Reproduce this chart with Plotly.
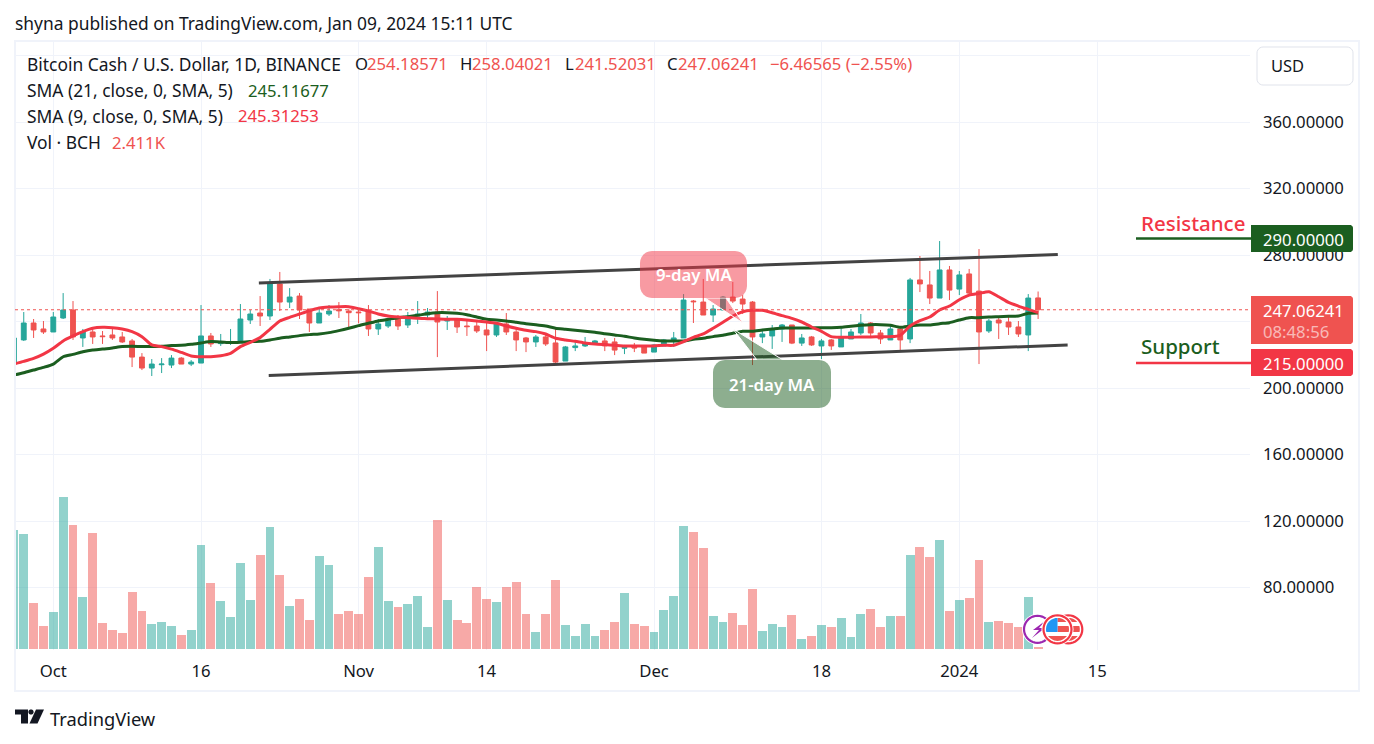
import math
import pandas as pd
import plotly.graph_objects as go

# ---------- data ----------
first_day = "2023-09-27"
opens = [214.4,228.9,239.1,235.5,233.7,242.1,246.9,230.1,233.7,231.3,
         231.9,230.7,228.3,218.6,212.0,214.0,213.8,218.0,214.4,215.0,
         231.3,226.7,227.1,227.7,240.9,245.1,243.3,262.6,251.7,255.3,
         247.5,239.1,244.5,247.1,246.3,245.7,246.3,235.5,237.3,241.5,
         237.9,243.3,243.9,245.7,240.3,241.5,237.3,237.3,234.9,231.9,
         238.5,233.7,230.1,227.7,230.7,227.1,216.2,224.3,225.3,226.5,
         228.3,227.7,223.9,224.7,224.7,221.6,225.3,228.9,230.1,252.3,
         251.7,243.9,246.9,254.7,253.5,251.7,230.7,231.3,235.5,237.9,
         227.0,230.7,225.3,228.9,224.7,229.5,233.1,239.1,233.1,228.9,
         235.5,229.5,265.0,262.0,254.1,271.0,259.5,268.6,258.3,234.3,
         240.9,239.7,236.7,231.9,254.18571]
highs = [230.1,245.7,241.5,240.3,245.7,257.1,252.3,235.5,235.5,234.3,
         236.7,233.7,229.5,221.0,217.4,218.0,219.8,218.6,216.8,249.9,
         233.1,232.5,235.5,250.5,246.9,255.3,265.6,269.8,260.1,257.1,
         247.5,248.7,249.9,251.7,247.5,248.1,249.9,241.5,242.1,243.9,
         245.7,252.3,248.1,258.3,243.3,242.1,241.5,240.9,239.7,239.1,
         245.1,236.1,230.7,231.9,231.9,236.7,225.3,227.7,230.7,228.9,
         230.1,230.1,225.9,227.1,225.3,226.5,229.5,233.7,256.5,252.9,
         265.6,249.9,255.3,263.8,255.9,252.3,235.5,237.9,238.5,237.9,
         232.5,231.3,229.5,229.5,236.7,235.5,244.5,239.7,234.9,238.5,
         236.1,266.2,279.4,270.4,288.4,273.4,270.4,271.6,283.6,241.5,
         242.7,243.9,240.3,256.5,258.04021]
lows = [214.4,228.3,230.1,232.5,233.7,241.5,228.9,224.7,226.5,226.5,
        228.9,227.1,212.6,210.8,207.2,209.0,212.0,214.4,213.2,215.0,
        224.7,225.3,225.9,227.1,238.5,237.3,240.9,246.3,248.1,241.5,
        233.7,239.1,243.3,242.1,236.7,238.9,231.3,231.9,236.1,234.9,
        236.1,238.5,242.1,218.6,234.9,233.1,231.3,233.1,222.2,230.7,
        231.9,222.2,221.6,224.7,225.3,214.4,216.2,222.2,224.7,225.9,
        222.2,219.8,220.4,221.6,221.0,221.6,225.3,224.7,230.1,239.1,
        243.9,239.7,246.9,251.1,244.5,213.8,227.0,223.5,227.7,226.4,
        225.3,225.3,217.4,222.9,224.7,229.5,231.9,231.3,226.5,228.9,
        221.6,227.0,257.7,250.5,254.1,252.9,255.9,256.5,214.4,233.1,
        229.5,231.9,230.7,222.2,241.52031]
closes = [230.1,239.1,234.9,233.7,242.7,246.9,230.7,233.7,230.7,230.9,
          230.1,227.7,218.6,212.0,214.4,214.4,218.0,214.4,215.6,231.3,
          226.5,227.1,227.7,241.5,244.5,243.3,262.6,251.7,254.7,246.9,
          239.1,245.1,246.3,246.5,245.3,245.3,235.5,238.5,241.5,237.3,
          243.3,244.5,245.7,239.7,240.9,236.7,236.9,234.3,231.9,238.5,
          233.7,228.9,227.7,230.7,226.5,215.6,224.7,225.3,227.1,228.3,
          225.3,222.8,224.5,224.1,221.0,225.9,228.9,230.1,252.9,251.9,
          243.9,247.5,254.7,252.3,250.5,230.7,232.5,235.5,237.9,227.0,
          230.1,225.9,228.3,225.3,230.1,233.7,239.1,233.1,229.5,235.5,
          228.9,265.0,262.6,254.1,271.0,258.9,268.0,257.1,233.7,240.3,
          239.1,236.7,232.5,254.1,247.06241]
volumes = [114.7,110.8,44.3,22.2,35.7,146.5,119.5,50.1,111.8,25.1,
           18.3,15.4,54.9,36.6,24.1,26.0,22.2,13.5,18.3,100.2,
           63.6,46.3,30.8,82.9,47.2,90.6,117.6,71.3,41.4,48.2,
           28.0,89.6,81.0,33.7,36.6,33.7,69.4,98.3,46.3,40.5,
           43.4,51.1,21.2,124.3,47.2,28.0,25.1,59.8,48.2,45.3,
           59.8,64.6,33.7,16.4,33.7,66.5,23.1,12.5,24.1,12.5,
           18.3,26.0,54.0,24.1,22.2,16.4,37.6,51.1,118.6,112.8,
           97.4,31.8,26.0,34.7,23.1,57.8,17.4,24.1,21.2,32.8,
           9.6,12.5,23.1,21.2,29.9,11.6,33.7,38.6,21.2,31.8,
           31.8,90.6,98.3,88.7,105.1,36.6,47.2,49.2,85.8,26.0,
           27.0,25.1,21.2,50.1,2.411]
sma21 = [207.8,209.2,210.8,212.4,214.4,218.8,220.2,221.8,222.9,223.4,
         224.1,224.9,225.1,224.9,224.9,225.1,225.5,225.7,226.3,227.1,
         227.9,227.7,227.3,227.5,227.9,228.1,228.9,229.9,230.7,231.5,
         232.1,232.5,233.3,234.5,235.9,237.5,238.9,240.3,241.3,242.3,
         242.9,243.7,244.7,245.3,245.3,244.9,244.1,242.7,241.3,240.9,
         240.3,239.5,238.7,238.1,237.3,235.9,235.3,234.7,234.1,233.5,
         232.7,231.9,231.1,230.1,229.3,228.7,228.3,228.3,228.3,229.3,
         229.9,230.9,231.7,232.9,234.1,234.1,234.9,235.5,236.1,236.1,
         236.1,236.1,236.3,236.3,236.5,237.1,237.7,238.1,238.1,237.7,
         236.5,237.3,237.9,237.9,238.7,239.3,240.9,242.3,242.3,242.7,
         242.9,243.1,243.3,244.9,245.11677]
sma9 = [214.4,216.0,217.8,220.4,223.9,228.3,231.3,233.9,235.9,236.5,
        236.3,235.5,233.9,230.9,225.9,224.9,223.4,221.4,219.3,218.8,
        218.8,219.4,220.8,224.9,227.5,230.3,235.3,240.3,242.5,244.5,
        246.5,248.1,248.7,248.9,248.9,247.7,246.3,244.5,243.3,242.7,
        242.3,241.9,241.7,241.5,241.3,241.3,240.9,240.3,239.7,238.9,
        237.3,235.9,234.7,233.9,232.5,229.9,228.9,228.1,227.1,226.5,
        226.1,225.7,225.3,225.3,225.3,225.3,225.7,225.7,227.9,230.5,
        232.5,235.9,239.5,243.3,245.9,246.7,246.7,245.3,243.5,241.9,
        239.7,236.7,234.1,230.9,230.5,230.5,230.7,230.7,230.9,230.9,
        231.7,237.3,240.5,242.7,246.9,249.3,253.1,255.9,256.9,257.9,
        254.9,251.5,249.3,247.3,245.31253]
price_ticks = [80, 120, 160, 200, 240, 280, 320, 360, 400]
hidden_price_labels = [240, 400]
date_ticks = ["2023-10-01", "2023-10-16", "2023-11-01", "2023-11-14",
              "2023-12-01", "2023-12-18", "2024-01-01", "2024-01-15"]
date_labels = ["Oct", "16", "Nov", "14", "Dec", "18", "2024", "15"]
upper_channel_x = ["2023-10-21 21:00", "2024-01-11 00:00"]
upper_channel_y = [263.2, 280.3]
lower_channel_x = ["2023-10-22 21:00", "2024-01-12 00:00"]
lower_channel_y = [207.5, 225.9]
resistance = 290.0
support = 215.0

# ---------- styling ----------
UP, DOWN = "#26a69a", "#ef5350"
TEXT = "#131722"
GREEN, RED = "#1b5e20", "#f23645"
FONT = "Noto Sans"
FS = 17.4      # labels with letters
FD = 16.7      # numeric values
W, H = 1374, 744
L, R, T, B = 15, 1250, 41, 650

def X(px):
    return (px - L) / (R - L)

def Y(py):
    return (B - py) / (B - T)

def poly(points):
    return "M " + " L ".join(f"{X(a):.5f} {Y(b):.5f}" for a, b in points) + " Z"

def round_rect(x0, y0, x1, y1, r=8, rl=None):
    rl = r if rl is None else rl
    pts = []
    for cx, cy, rad, start in [(x1 - r, y0 + r, r, -90), (x1 - r, y1 - r, r, 0),
                               (x0 + rl, y1 - rl, rl, 90), (x0 + rl, y0 + rl, rl, 180)]:
        for k in range(7):
            a = math.radians(start + k * 15)
            pts.append((cx + rad * math.cos(a), cy + rad * math.sin(a)))
    return poly(pts)

def circle(cx, cy, r):
    return poly([(cx + r * math.cos(math.radians(a)), cy + r * math.sin(math.radians(a)))
                 for a in range(0, 360, 10)])

def chord_poly(cx, cy, r, y0, y1, xmin=None, xmax=None):
    left, right = [], []
    for i in range(9):
        yy = y0 + (y1 - y0) * i / 8
        half = math.sqrt(max(r * r - (yy - cy) ** 2, 0))
        a, b = cx - half, cx + half
        if xmin is not None:
            a, b = max(a, xmin), max(b, xmin)
        if xmax is not None:
            a, b = min(a, xmax), min(b, xmax)
        left.append((a, yy))
        right.append((b, yy))
    return poly(right + left[::-1])

shapes = []

def add(path, fill, line=None, width=0):
    shapes.append(dict(type="path", xref="paper", yref="paper", path=path, fillcolor=fill,
                       line=dict(color=line or "rgba(0,0,0,0)", width=width), layer="above"))

annotations = []

def text(px, py, s, color=TEXT, size=FS, anchor="left", weight=400):
    annotations.append(dict(xref="paper", yref="paper", x=X(px), y=Y(py), text=s, showarrow=False,
                            xanchor=anchor, yanchor="middle", borderpad=0, borderwidth=0,
                            font=dict(family=FONT, size=size, color=color, weight=weight)))

# ---------- traces ----------
dates = pd.date_range(first_day, periods=len(closes), freq="D")
vol_colors = ["rgba(38,166,154,0.5)" if c >= o else "rgba(239,83,80,0.5)" for o, c in zip(opens, closes)]

fig = go.Figure()
fig.add_trace(go.Bar(x=dates, y=volumes, yaxis="y2", marker=dict(color=vol_colors, line_width=0),
                     width=86400000 * 0.9, showlegend=False))
fig.add_trace(go.Candlestick(x=dates, open=opens, high=highs, low=lows, close=closes, whiskerwidth=0,
                             increasing=dict(line=dict(color=UP, width=1), fillcolor=UP),
                             decreasing=dict(line=dict(color=DOWN, width=1), fillcolor=DOWN),
                             showlegend=False))
fig.add_trace(go.Scatter(x=dates, y=sma21, mode="lines", line=dict(color=GREEN, width=3, shape="spline", smoothing=0.6), showlegend=False))
fig.add_trace(go.Scatter(x=dates, y=sma9, mode="lines", line=dict(color=RED, width=3, shape="spline", smoothing=0.6), showlegend=False))
for xs, ys in ((upper_channel_x, upper_channel_y), (lower_channel_x, lower_channel_y)):
    fig.add_trace(go.Scatter(x=xs, y=ys, mode="lines", line=dict(color="#434343", width=3), showlegend=False))

# ---------- overlay shapes ----------
add(poly([(L, 41), (1359, 41), (1359, 691), (L, 691)]), "rgba(0,0,0,0)", "#f0f3fa", 2)
shapes.append(dict(type="line", xref="paper", yref="y", x0=0, x1=1, y0=closes[-1], y1=closes[-1],
                   line=dict(color=DOWN, width=1, dash="dot"), layer="above"))
for lvl, col in ((resistance, GREEN), (support, RED)):
    shapes.append(dict(type="line", xref="paper", yref="y", x0=X(1136), x1=X(1252), y0=lvl, y1=lvl,
                       line=dict(color=col, width=2.5), layer="above"))
PINK = "rgba(242,54,69,0.5)"
SAGE = "rgba(27,94,32,0.5)"
add(poly([(705, 298), (726, 298), (743, 323)]), PINK, "#ffffff", 1)
add(round_rect(640, 251, 747, 298, 12), PINK)
add(poly([(757, 360), (783, 360), (733, 329)]), SAGE, "#ffffff", 1)
add(round_rect(713, 360, 831, 408, 12), SAGE)
text(693.5, 274, "9-day MA", "#ffffff", 16.8, "center", 600)
text(772, 384, "21-day MA", "#ffffff", 16.8, "center", 600)
add(round_rect(1251, 225, 1353, 252, 3, 0.1), GREEN)
add(round_rect(1251, 296, 1353, 344, 3, 0.1), DOWN)
add(round_rect(1251, 349, 1353, 376, 3, 0.1), RED)
text(1263, 239, "290.00000", "#ffffff", FD)
text(1263, 310, "247.06241", "#ffffff", FD)
text(1263, 331, "08:48:56", "rgba(255,255,255,0.6)", FD)
text(1263, 363, "215.00000", "#ffffff", FD)
add(round_rect(1257, 47, 1353, 85, 6), "#ffffff", "#e0e3eb", 1)
text(1271, 65.5, "USD", TEXT, 16.5)
add(circle(1037.5, 629.3, 15.5), "#ffffff")
add(circle(1037.5, 629.3, 13.5), "#ffffff", "#9c27b0", 2.2)
add(poly([(1045, 621), (1033, 630), (1039, 630), (1032, 638), (1045, 628), (1039, 628)]), "#9c27b0")
for cx in (1068.3, 1057.5):
    add(circle(cx, 629.3, 16), "#ffffff")
    add(circle(cx, 629.3, 14), "#ffffff", RED, 2.2)
    add(chord_poly(cx, 629.3, 11.5, 618, 622, xmin=cx), DOWN)
    add(chord_poly(cx, 629.3, 11.5, 626, 632, xmin=cx), DOWN)
    add(chord_poly(cx, 629.3, 11.5, 636, 641), DOWN)
    add(chord_poly(cx, 629.3, 11.5, 618, 632, xmax=cx), "#2196f3")
LOGO = "#131722"
add(poly([(15, 709.5), (28, 709.5), (28, 723.5), (21, 723.5), (21, 714.5), (15, 714.5)]), LOGO)
add(circle(31, 712, 2.6), LOGO)
add(poly([(36, 709.5), (44, 709.5), (37.5, 723.5), (29.5, 723.5)]), LOGO)

# ---------- text ----------
text(15, 23.5, "shyna published on TradingView.com, Jan 09, 2024 15:11 UTC", TEXT)
text(27, 64, "Bitcoin Cash / U.S. Dollar, 1D, BINANCE", TEXT)
for px, s, col in [(355, "O", TEXT), (367, "254.18571", DOWN), (460, "H", TEXT), (472, "258.04021", DOWN),
                   (565, "L", TEXT), (575, "241.52031", DOWN), (667, "C", TEXT), (678, "247.06241", DOWN),
                   (770, "−6.46565 (−2.55%)", DOWN)]:
    text(px, 64, s, col, FD)
text(27, 90, "SMA (21, close, 0, SMA, 5)", TEXT)
text(248, 90, "245.11677", GREEN, FD)
text(27, 116, "SMA (9, close, 0, SMA, 5)", TEXT)
text(238, 116, "245.31253", RED, FD)
text(27, 142, "Vol · BCH", TEXT)
text(112, 142, "2.411K", DOWN, FD)
text(1141, 223, "Resistance", RED, 20.5, "left", 500)
text(1141, 346, "Support", GREEN, 20.5, "left", 500)
text(49.5, 718, "TradingView", TEXT, 18.3)

# ---------- axes ----------
px_per_day = 9.848
oct1 = pd.Timestamp("2023-10-01")
x_start = oct1 + pd.Timedelta(days=(L - 53.3) / px_per_day)
x_end = oct1 + pd.Timedelta(days=(R - 53.3) / px_per_day)
px_per_unit = 1.6625
y_hi = 360 + (122 - T) / px_per_unit
y_lo = 360 - (B - 122) / px_per_unit
price_labels = ["" if v in hidden_price_labels else f"{v:.5f}" for v in price_ticks]

fig.update_layout(
    width=W, height=H, autosize=False,
    margin=dict(l=L, r=W - R, t=T, b=H - B, pad=0),
    paper_bgcolor="#ffffff", plot_bgcolor="#ffffff",
    font=dict(family=FONT, color=TEXT),
    hovermode=False, showlegend=False, bargap=0,
    xaxis=dict(type="date", range=[x_start, x_end], rangeslider=dict(visible=False),
               tickmode="array", tickvals=date_ticks, ticktext=date_labels,
               showgrid=True, gridcolor="#f0f3fa", gridwidth=1, zeroline=False, showline=False,
               ticks="", ticklabelstandoff=9, tickfont=dict(family=FONT, size=FD, color=TEXT)),
    yaxis=dict(side="right", range=[y_lo, y_hi], tickmode="array", tickvals=price_ticks,
               ticktext=price_labels, showgrid=True, gridcolor="#f0f3fa",
               gridwidth=1, zeroline=False, showline=False, ticks="", ticklabelstandoff=12,
               tickfont=dict(family=FONT, size=FD, color=TEXT)),
    yaxis2=dict(overlaying="y", range=[-0.96, 586], visible=False, fixedrange=True),
    shapes=shapes, annotations=annotations,
)

fig.write_html("out.html", config=dict(displayModeBar=False),
               post_script="document.body.style.margin='0';document.documentElement.style.overflow='hidden';")
